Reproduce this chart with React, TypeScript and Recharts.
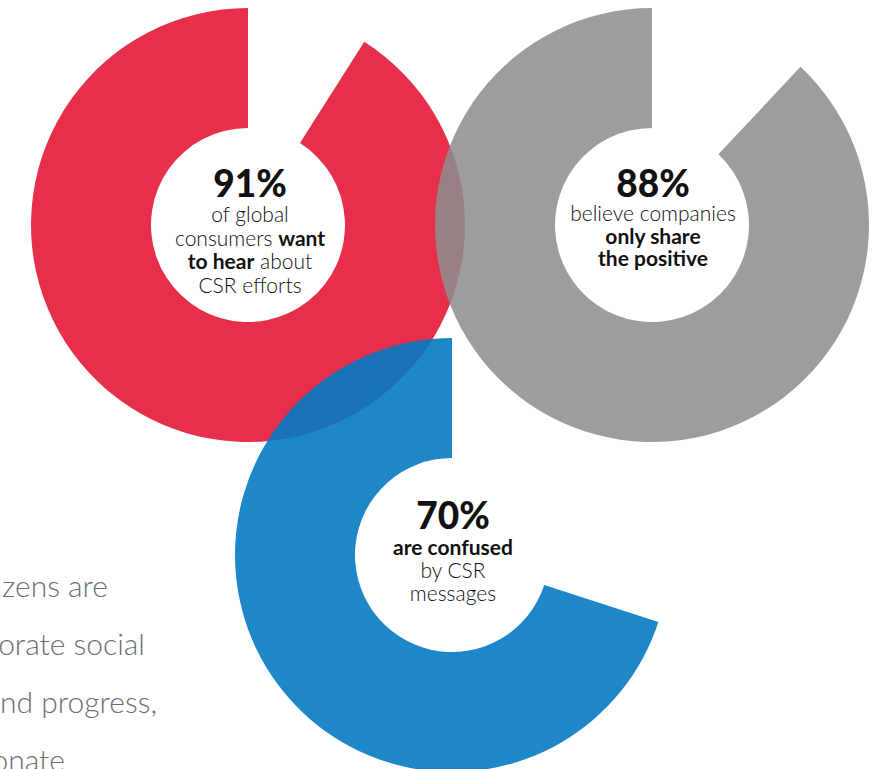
import React from 'react';
import { PieChart, Pie, Cell, Label } from 'recharts';

// ---- data ----
const statLabels = ['91%', '88%', '70%'];
const shareValues = [91, 88, 70];
const restValues = [9, 12, 30];
type Seg = { t: string; b?: boolean };
const captionLines: Seg[][][] = [
  [
    [{ t: 'of global' }],
    [{ t: 'consumers ' }, { t: 'want', b: true }],
    [{ t: 'to hear', b: true }, { t: ' about' }],
    [{ t: 'CSR efforts' }],
  ],
  [
    [{ t: 'believe companies' }],
    [{ t: 'only share', b: true }],
    [{ t: 'the positive', b: true }],
  ],
  [
    [{ t: 'are confused', b: true }],
    [{ t: 'by CSR' }],
    [{ t: 'messages' }],
  ],
];
const sideText = ['citizens are', 'corporate social', 'and progress,', 'passionate'];

// ---- layout / style ----
const W = 883;
const H = 769;
const ringColors = ['#E6304B', '#8D8D8F', '#057AC2'];
const ringOpacity = [1, 0.86, 0.9];
const ringCx = [248, 652, 452];
const ringCy = [225, 225, 555];
const OUTER = 217;
const INNER = 97;
const pctDy = [-28, -28, -26];
const firstLineDy = [-3, -4, 0];
const lineGap = [23.5, 22.5, 23];
const textDx = [2, 1, 1];
const FONT = 'Lato, "Open Sans", sans-serif';
const sideRight = [108, 145, 157, 65];
const sideBase = [597, 655, 713, 771];

const makeCenter = (i: number) => (props: any) => {
  const vb = (props && props.viewBox) || {};
  const cx = (vb.cx ?? ringCx[i]) + textDx[i];
  const cy = vb.cy ?? ringCy[i];
  return (
    <g>
      <text
        x={cx}
        y={cy + pctDy[i]}
        textAnchor="middle"
        fontFamily={FONT}
        fontWeight={900}
        fontSize={37}
        fill="#111"
      >
        {statLabels[i]}
      </text>
      {captionLines[i].map((segs, k) => (
        <text
          key={k}
          x={cx}
          y={cy + firstLineDy[i] + k * lineGap[i]}
          textAnchor="middle"
          fontFamily={FONT}
          fontSize={21}
          fill="#111"
          style={{ whiteSpace: 'pre' }}
        >
          {segs.map((s, j) => (
            <tspan key={j} fontWeight={s.b ? 700 : 300}>
              {s.t}
            </tspan>
          ))}
        </text>
      ))}
    </g>
  );
};

export default function App() {
  return (
    <div style={{ position: 'relative', width: W, height: H, overflow: 'hidden', background: '#fff' }}>
      <style>{'body{margin:0}'}</style>
      <svg width={W} height={H} style={{ position: 'absolute', left: 0, top: 0 }}>
        {sideText.map((t, i) => (
          <text
            key={i}
            x={sideRight[i]}
            y={sideBase[i]}
            textAnchor="end"
            fontFamily={FONT}
            fontWeight={300}
            fontSize={30}
            fill="#6D6E71"
          >
            {t}
          </text>
        ))}
      </svg>
      <div style={{ position: 'absolute', left: 0, top: 0 }}>
        <PieChart width={W} height={H} margin={{ top: 0, right: 0, bottom: 0, left: 0 }}>
          {shareValues.map((v, i) => (
            <Pie
              key={i}
              data={[
                { name: 'share', value: v },
                { name: 'rest', value: restValues[i] },
              ]}
              dataKey="value"
              cx={ringCx[i]}
              cy={ringCy[i]}
              innerRadius={INNER}
              outerRadius={OUTER}
              startAngle={90}
              endAngle={450}
              paddingAngle={0}
              stroke="none"
              isAnimationActive={false}
            >
              <Cell fill={ringColors[i]} fillOpacity={ringOpacity[i]} stroke="none" />
              <Cell fill="transparent" fillOpacity={0} stroke="none" />
              <Label position="center" content={makeCenter(i)} />
            </Pie>
          ))}
        </PieChart>
      </div>
    </div>
  );
}
